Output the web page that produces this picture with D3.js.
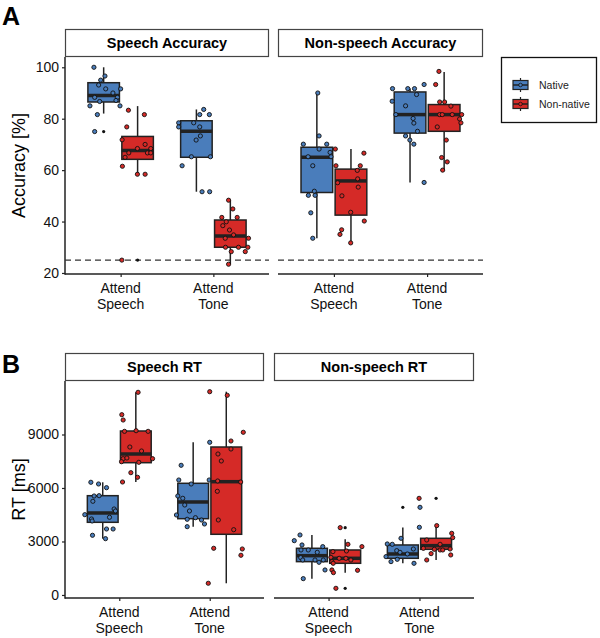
<!DOCTYPE html>
<html><head><meta charset="utf-8">
<script src="https://cdn.jsdelivr.net/npm/d3@7"></script>
<style>body{margin:0;background:#fff}svg{font-family:"Liberation Sans",Arial,sans-serif}</style>
</head><body><svg id="c" width="600" height="638"></svg>
<script>
// ---------------- DATA ----------------
const conditions = ["Attend Speech", "Attend Tone"];
const groups = ["Native", "Non-native"];
const groupColors = ["#4a7dbb", "#d52a27"];
const accTicks = [20, 40, 60, 80, 100];
const rtTicks = [0, 3000, 6000, 9000];
const chanceLevel = 25;

// Box stats: [lower whisker, q1, median, q3, upper whisker]
// order: Attend Speech-Native, Attend Speech-Non-native, Attend Tone-Native, Attend Tone-Non-native
const speechAccStats = [[82, 86.5, 89, 94, 100], [58.4, 64.2, 67.6, 73.1, 84.9], [51.6, 65, 75.1, 79.2, 83.6], [23.4, 30, 34.4, 40.6, 48.3]];
const nonspeechAccStats = [[33.5, 51.3, 65, 68.9, 90], [31.7, 42.5, 55.8, 60.4, 68.2], [55.2, 74.4, 81.6, 90.4, 91.7], [60, 75.1, 81.6, 85.5, 98.2]];
const speechRtStats = [[3157, 4075, 4598, 5568, 6320], [6336, 7418, 7906, 9196, 11366], [3830, 4278, 5215, 6263, 8562], [656, 3403, 6353, 8298, 11400]];
const nonspeechRtStats = [[916, 1869, 2204, 2618, 3364], [1253, 1776, 2056, 2523, 3122], [1776, 2056, 2299, 2804, 3790], [1962, 2561, 2766, 3178, 3888]];

// Outliers per box
const speechAccOutliers = [[75], [25], [], []];
const nonspeechAccOutliers = [[], [], [], []];
const speechRtOutliers = [[], [], [], []];
const nonspeechRtOutliers = [[], [3776, 374], [4917], [5420]];

// Individual participant values per box
const speechAccPoints = [
  [100, 95, 96.6, 93.1, 91.6, 91.6, 90, 88.3, 86.7, 88.3, 87.1, 85, 85, 81.6, 75],
  [83.3, 81.6, 76.8, 71.8, 70, 68.4, 68.4, 66.7, 66.7, 66.7, 65, 61.5, 58.4, 58.4, 25],
  [83.6, 81.6, 81.6, 78.4, 76.8, 78.4, 76.8, 73.3, 71.7, 61.7, 65.2, 65.2, 51.6, 51.6],
  [48.3, 44.9, 41.6, 41.6, 39.9, 38.4, 36.7, 34.8, 33.5, 33.5, 30, 30, 30, 28.3, 28.3, 23.4]
];
const speechAccJitter = [
  [-0.105, -0.032, 0.014, -0.054, 0.022, 0.183, 0.1, -0.097, -0.043, 0.148, 0.133, -0.148, 0.176, -0.068, -0.097],
  [-0.099, 0.073, -0.117, -0.167, 0.081, -0.002, 0.142, -0.095, 0.106, 0.142, -0.135, -0.164, -0.002, 0.081, -0.17],
  [0.079, 0.036, 0.14, -0.191, -0.191, -0.029, 0.036, 0.043, -0.003, -0.154, -0.054, 0.151, 0.061, 0.143],
  [-0.019, 0.027, -0.092, 0.074, -0.044, -0.081, -0.009, 0.035, -0.055, 0.196, -0.052, 0.088, 0.189, 0.01, 0.161, -0.019]
];
const nonspeechAccPoints = [
  [90, 73.3, 70.1, 68.2, 70.1, 66.9, 65.2, 65.2, 61.7, 51.8, 50.2, 50.2, 43.4, 33.5],
  [68.2, 66.6, 61.7, 61.7, 59.9, 55.1, 56.6, 53.4, 50.0, 43.6, 40.2, 36.8, 35.0, 31.7],
  [91.7, 91.7, 91.7, 93.3, 89.4, 86.8, 85, 80.1, 78.3, 81.6, 75.1, 73.3, 71.7, 70.1, 55.2],
  [98.4, 93.3, 86.5, 86.5, 84.9, 81.6, 81.6, 81.6, 81.6, 79.9, 78.4, 76.8, 71.7, 64.9, 63.2, 60.0]
];
const nonspeechAccJitter = [
  [0.01, 0.024, -0.145, 0.024, 0.106, 0.142, 0.152, -0.094, -0.044, -0.027, -0.091, -0.019, -0.065, -0.044],
  [-0.168, 0.139, -0.161, 0.1, 0.068, -0.143, 0.072, 0.078, -0.097, -0.003, 0.143, -0.1, -0.118, -0.003],
  [-0.188, -0.024, 0.048, 0.151, 0.07, -0.192, -0.048, 0.033, 0.041, -0.152, 0.08, -0.048, -0.002, 0.041, 0.151],
  [-0.056, -0.091, -0.048, 0.005, 0.073, -0.048, -0.02, 0.087, 0.188, 0.166, 0.18, -0.074, 0.023, -0.027, 0.033, -0.016]
];
const speechRtPoints = [
  [6320, 6224, 6017, 5551, 5568, 5254, 4822, 4710, 4503, 4357, 4261, 4149, 3700, 3700, 3347, 3157],
  [11366, 10110, 9812, 9177, 9212, 9177, 8298, 8074, 7643, 7682, 7643, 7474, 7440, 6858, 6600, 6336],
  [8562, 7272, 6448, 6224, 6448, 5551, 5422, 5046, 4710, 4486, 4245, 4334, 4205, 3981, 3830],
  [11400, 11197, 9123, 8635, 8186, 7906, 7514, 6392, 6336, 5814, 4205, 3662, 2618, 2579, 2226, 656]
];
const speechRtJitter = [
  [-0.131, -0.046, 0.042, -0.095, -0.04, -0.109, 0.126, 0.141, -0.198, 0.075, -0.124, -0.117, 0.042, 0.115, -0.113, 0.031],
  [0.025, -0.155, -0.14, -0.125, 0.003, 0.136, -0.066, 0.063, -0.14, -0.099, 0.185, -0.158, 0.033, -0.055, 0.019, -0.147],
  [0.183, -0.133, -0.159, -0.022, 0.177, -0.17, -0.115, -0.093, -0.041, -0.185, -0.066, 0.025, 0.092, 0.125, -0.066],
  [-0.183, 0.011, 0.188, 0.052, 0.052, -0.092, -0.055, -0.095, 0.159, -0.099, -0.088, 0.082, -0.139, 0.177, 0.162, -0.199]
];
const nonspeechRtPoints = [
  [3364, 3045, 2804, 2523, 2523, 2710, 2392, 2093, 1962, 1962, 1833, 1962, 1402, 916],
  [3776, 2841, 2710, 2430, 2467, 2112, 2056, 2056, 1962, 1869, 1776, 1383, 1402, 1253, 374],
  [4917, 3794, 3178, 2860, 2841, 2486, 2392, 2579, 2299, 2149, 2000, 1869, 1776],
  [5420, 3888, 3458, 3215, 3084, 2841, 2617, 2561, 2523, 2523, 2579, 2318, 2243, 1962]
];
const nonspeechRtJitter = [
  [-0.131, -0.194, -0.109, -0.12, -0.04, 0.119, 0.059, -0.123, -0.101, 0.034, 0.078, 0.125, 0.144, -0.095],
  [-0.055, 0.03, 0.184, -0.135, 0.014, -0.157, -0.066, 0.008, 0.063, -0.146, -0.132, 0.136, -0.146, -0.129, -0.102],
  [0.189, 0.182, -0.02, -0.171, -0.116, -0.067, -0.031, 0.116, 0.05, -0.185, -0.061, -0.13, 0.123],
  [-0.187, 0.007, 0.172, 0.183, -0.103, 0.044, -0.14, -0.019, 0.044, 0.073, 0.154, -0.055, 0.161, -0.103]
];

// ---------------- LAYOUT ----------------
const svg = d3.select("#c");
const panels = [
  { letter: "A", letterY: 25, yLabel: "Accuracy [%]", top: 57, bottom: 274, stripTop: 29,
    yDomain: [19.6, 104], ticks: accTicks, chance: chanceLevel,
    facets: [
      { title: "Speech Accuracy", x0: 65, x1: 269, stats: speechAccStats, out: speechAccOutliers, pts: speechAccPoints, jit: speechAccJitter },
      { title: "Non-speech Accuracy", x0: 278, x1: 483, stats: nonspeechAccStats, out: nonspeechAccOutliers, pts: nonspeechAccPoints, jit: nonspeechAccJitter }
    ] },
  { letter: "B", letterY: 373, yLabel: "RT [ms]", top: 381, bottom: 598, stripTop: 353,
    yDomain: [-170, 12000], ticks: rtTicks, chance: null,
    facets: [
      { title: "Speech RT", x0: 65, x1: 264, stats: speechRtStats, out: speechRtOutliers, pts: speechRtPoints, jit: speechRtJitter },
      { title: "Non-speech RT", x0: 274, x1: 474, stats: nonspeechRtStats, out: nonspeechRtOutliers, pts: nonspeechRtPoints, jit: nonspeechRtJitter }
    ] }
];

const ink = "#222";
panels.forEach(p => {
  const y = d3.scaleLinear().domain(p.yDomain).range([p.bottom, p.top]);
  // panel letter
  svg.append("text").attr("x", 2).attr("y", p.letterY).attr("font-size", 25).attr("font-weight", "bold").text(p.letter);
  // y label
  svg.append("text").attr("transform", `translate(25,${(p.top + p.bottom) / 2}) rotate(-90)`)
    .attr("text-anchor", "middle").attr("font-size", 18).text(p.yLabel);
  // y axis on first facet
  const f0 = p.facets[0];
  const yAxis = d3.axisLeft(y).tickValues(p.ticks).tickSize(3).tickPadding(3).tickFormat(d3.format("d"));
  const ga = svg.append("g").attr("transform", `translate(${f0.x0},0)`).call(yAxis);
  ga.select(".domain").remove();
  ga.selectAll(".tick line").attr("stroke", ink).attr("stroke-width", 1.2);
  ga.selectAll(".tick text").attr("font-size", 14).attr("fill", "#111").attr("font-family", "Liberation Sans, Arial, sans-serif");
  svg.append("line").attr("x1", f0.x0).attr("x2", f0.x0).attr("y1", p.top).attr("y2", p.bottom + 0.75)
    .attr("stroke", ink).attr("stroke-width", 1.5);

  p.facets.forEach(f => {
    const x = d3.scalePoint().domain(conditions).range([f.x0, f.x1]).padding(0.6);
    const step = x.step();
    // strip
    svg.append("rect").attr("x", f.x0 + 0.5).attr("y", p.stripTop + 0.5).attr("width", f.x1 - f.x0 - 1)
      .attr("height", p.top - p.stripTop - 1).attr("fill", "#fff").attr("stroke", "#444").attr("stroke-width", 1.2);
    svg.append("text").attr("x", (f.x0 + f.x1) / 2).attr("y", (p.stripTop + p.top) / 2 + 5)
      .attr("text-anchor", "middle").attr("font-size", 14.5).attr("font-weight", "bold").text(f.title);
    // x axis
    const xAxis = d3.axisBottom(x).tickSize(3).tickFormat("");
    const gx = svg.append("g").attr("transform", `translate(0,${p.bottom})`).call(xAxis);
    gx.select(".domain").remove();
    gx.selectAll(".tick line").attr("stroke", ink).attr("stroke-width", 1.2);
    svg.append("line").attr("x1", f.x0).attr("x2", f.x1).attr("y1", p.bottom).attr("y2", p.bottom)
      .attr("stroke", ink).attr("stroke-width", 1.5);
    conditions.forEach(c => {
      const parts = c.split(" ");
      const t = svg.append("text").attr("text-anchor", "middle").attr("font-size", 14).attr("fill", "#111");
      t.append("tspan").attr("x", x(c)).attr("y", p.bottom + 19).text(parts[0]);
      t.append("tspan").attr("x", x(c)).attr("y", p.bottom + 35).text(parts[1]);
    });
    // chance line
    if (p.chance !== null) {
      svg.append("line").attr("x1", f.x0).attr("x2", f.x1).attr("y1", y(p.chance)).attr("y2", y(p.chance))
        .attr("stroke", "#333").attr("stroke-width", 1.3).attr("stroke-dasharray", "6,4");
    }
    // boxes
    const boxW = 0.34 * step;
    f.stats.forEach((s, i) => {
      const c = conditions[Math.floor(i / 2)];
      const g = i % 2;
      const cx = x(c) + (g === 0 ? -0.183 : 0.183) * step;
      const col = groupColors[g];
      const bg = svg.append("g");
      bg.append("line").attr("x1", cx).attr("x2", cx).attr("y1", y(s[0])).attr("y2", y(s[4]))
        .attr("stroke", ink).attr("stroke-width", 1.5);
      bg.append("rect").attr("x", cx - boxW / 2).attr("width", boxW).attr("y", y(s[3])).attr("height", y(s[1]) - y(s[3]))
        .attr("fill", col).attr("stroke", ink).attr("stroke-width", 1.5);
      bg.append("line").attr("x1", cx - boxW / 2).attr("x2", cx + boxW / 2).attr("y1", y(s[2])).attr("y2", y(s[2]))
        .attr("stroke", ink).attr("stroke-width", 3.5);
      f.out[i].forEach(v => {
        bg.append("circle").attr("cx", cx).attr("cy", y(v)).attr("r", 1.6).attr("fill", "#111");
      });
      f.pts[i].forEach((v, k) => {
        bg.append("circle").attr("cx", cx + f.jit[i][k] * step).attr("cy", y(v)).attr("r", 2.1)
          .attr("fill", col).attr("stroke", "#111").attr("stroke-width", 0.9);
      });
    });
  });
});

// legend
const lg = svg.append("g");
lg.append("rect").attr("x", 501.5).attr("y", 57.5).attr("width", 95).attr("height", 65)
  .attr("fill", "#fff").attr("stroke", "#111").attr("stroke-width", 1.3);
groups.forEach((gname, i) => {
  const cy = 85 + i * 19;
  const kx = 520.5;
  lg.append("line").attr("x1", kx).attr("x2", kx).attr("y1", cy - 7).attr("y2", cy + 7).attr("stroke", ink).attr("stroke-width", 1.2);
  lg.append("rect").attr("x", kx - 7.5).attr("y", cy - 4.5).attr("width", 15).attr("height", 9)
    .attr("fill", groupColors[i]).attr("stroke", ink).attr("stroke-width", 1.2);
  lg.append("line").attr("x1", kx - 7.5).attr("x2", kx + 7.5).attr("y1", cy).attr("y2", cy).attr("stroke", ink).attr("stroke-width", 1.5);
  lg.append("circle").attr("cx", kx).attr("cy", cy).attr("r", 1.8).attr("fill", groupColors[i]).attr("stroke", "#111").attr("stroke-width", 0.8);
  lg.append("text").attr("x", 539).attr("y", cy + 4).attr("font-size", 10.5).attr("fill", "#222").text(gname);
});
</script></body></html>
